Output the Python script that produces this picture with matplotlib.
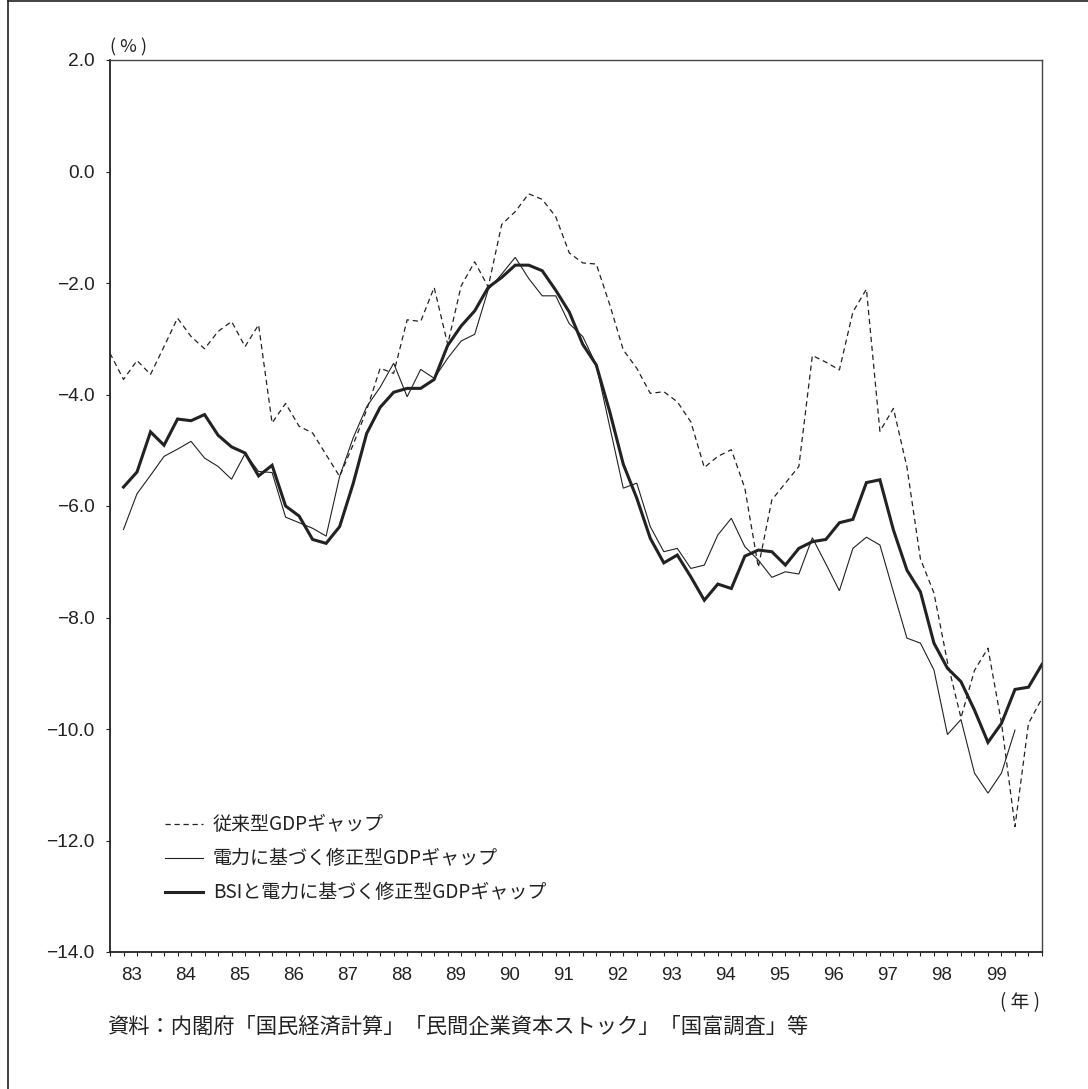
import numpy as np
import matplotlib
matplotlib.use("Agg")
import matplotlib.pyplot as plt
from matplotlib.lines import Line2D

# ---------------- data (quarterly, 1983Q1 .. 2000Q2) ----------------
years = [str(y) for y in range(83, 100)]
conventional = [-3.26, -3.73, -3.39, -3.64, -3.14, -2.63, -2.96, -3.18, -2.87, -2.69,
                -3.14, -2.75, -4.51, -4.16, -4.57, -4.69, -5.08, -5.47, -4.90, -4.28,
                -3.53, -3.62, -2.66, -2.69, -2.08, -3.10, -2.05, -1.62, -2.07, -0.95,
                -0.72, -0.40, -0.50, -0.81, -1.46, -1.64, -1.66, -2.39, -3.20, -3.53,
                -3.98, -3.95, -4.13, -4.49, -5.31, -5.11, -4.99, -5.68, -7.10, -5.89,
                -5.59, -5.29, -3.30, -3.42, -3.56, -2.52, -2.11, -4.66, -4.25, -5.30,
                -6.95, -7.56, -8.80, -9.80, -8.95, -8.55, -9.89, -11.75, -9.90, -9.45]
electric = [np.nan, -6.42, -5.78, -5.45, -5.11, -4.98, -4.84, -5.14, -5.29, -5.52,
            -5.06, -5.38, -5.40, -6.20, -6.30, -6.40, -6.54, -5.47, -4.78, -4.22,
            -3.87, -3.44, -4.04, -3.55, -3.71, -3.35, -3.04, -2.92, -2.12, -1.84,
            -1.54, -1.92, -2.23, -2.23, -2.73, -2.96, -3.47, -4.58, -5.68, -5.59,
            -6.37, -6.82, -6.76, -7.12, -7.06, -6.52, -6.22, -6.73, -6.97, -7.28,
            -7.18, -7.22, -6.57, -7.04, -7.52, -6.76, -6.56, -6.70, -7.54, -8.37,
            -8.46, -8.94, -10.10, -9.83, -10.79, -11.15, -10.79, -10.02, np.nan, np.nan]
bsi_electric = [np.nan, -5.66, -5.39, -4.67, -4.91, -4.44, -4.47, -4.36, -4.73, -4.94,
                -5.05, -5.46, -5.27, -6.00, -6.18, -6.60, -6.67, -6.37, -5.60, -4.70,
                -4.23, -3.96, -3.89, -3.89, -3.73, -3.12, -2.77, -2.50, -2.08, -1.90,
                -1.68, -1.68, -1.78, -2.13, -2.52, -3.10, -3.47, -4.31, -5.25, -5.86,
                -6.58, -7.02, -6.88, -7.27, -7.69, -7.40, -7.48, -6.90, -6.79, -6.82,
                -7.06, -6.76, -6.64, -6.60, -6.30, -6.24, -5.58, -5.53, -6.43, -7.15,
                -7.54, -8.46, -8.91, -9.15, -9.66, -10.24, -9.90, -9.29, -9.25, -8.84]
labels = ["従来型GDPギャップ", "電力に基づく修正型GDPギャップ", "BSIと電力に基づく修正型GDPギャップ"]
yticks = [2, 0, -2, -4, -6, -8, -10, -12, -14]

# ---------------- styling ----------------
W, H = 1088, 1089
ink = "#222222"
num_font = ["Liberation Sans", "DejaVu Sans"]
jp_font = ["Noto Sans CJK JP", "DejaVu Sans"]
plt.rcParams["font.family"] = num_font

def fx(x):
    return x / W

def fy(y):
    return 1 - y / H

fig = plt.figure(figsize=(W / 100, H / 100), dpi=100)
fig.patch.set_facecolor("white")
ax = fig.add_axes([fx(110), fy(952), (1042 - 110) / W, (952 - 60) / H])

x = np.arange(len(conventional))
styles = [
    dict(color=ink, lw=0.9, linestyle=(0, (4.2, 3.0))),
    dict(color=ink, lw=0.8, linestyle="-"),
    dict(color=ink, lw=2.2, linestyle="-"),
]
for series, st in zip([conventional, electric, bsi_electric], styles):
    ax.plot(x, series, solid_joinstyle="miter", **st)

ax.set_xlim(0, len(conventional) - 1)
ax.set_ylim(-14, 2)

ax.set_yticks(yticks)
ax.set_yticklabels([("\u2212" if v < 0 else "") + f"{abs(v):.1f}" for v in yticks],
                   fontsize=13.8, color=ink)
ax.tick_params(axis="y", direction="out", length=3, width=0.8, colors=ink, pad=8)

ax.set_xticks([4 * k + 1.6 for k in range(len(years))])
ax.set_xticklabels(years, fontsize=13.5, color=ink)
ax.set_xticks(np.arange(0, len(conventional)), minor=True)
ax.tick_params(axis="x", which="major", length=0, pad=11, colors=ink)
ax.tick_params(axis="x", which="minor", direction="out", length=3, width=0.8, color=ink)

for side in ["left", "bottom"]:
    ax.spines[side].set_linewidth(1.3)
    ax.spines[side].set_color(ink)
for side in ["top", "right"]:
    ax.spines[side].set_linewidth(1.0)
    ax.spines[side].set_color("#444444")

# legend (manual, inside axes lower-left)
leg_rows = [824, 858, 892]
for lab, st, yy in zip(labels, styles, leg_rows):
    fig.add_artist(Line2D([fx(165), fx(203)], [fy(yy), fy(yy)], **st))
    fig.text(fx(213), fy(yy), lab, fontsize=13.7, color=ink, va="center", ha="left",
             family=jp_font)

# unit labels and source
fig.text(fx(128), fy(47), "( % )", fontsize=13, color=ink, ha="center", va="center",
         family=jp_font)
fig.text(fx(1020), fy(1003), "( 年 )", fontsize=13.5, color=ink, ha="center", va="center",
         family=jp_font)
fig.text(fx(107), fy(1027), "資料：内閣府「国民経済計算」「民間企業資本ストック」「国富調査」等",
         fontsize=15.3, color=ink, ha="left", va="center", family=jp_font)

# outer frame (top and left edges visible)
fig.add_artist(Line2D([fx(8), fx(8)], [0, 1], color=ink, lw=1.2))
fig.add_artist(Line2D([fx(8), 1], [fy(1), fy(1)], color=ink, lw=1.2))

fig.savefig("out.png", dpi=100, facecolor="white")
